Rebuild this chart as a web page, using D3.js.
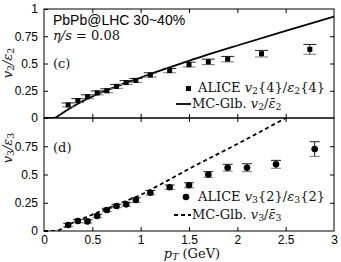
<!DOCTYPE html>
<meta charset='utf-8'>
<style>
body { margin: 0; background: #fff; }
svg { display: block; }
.tick text { font-family: 'Liberation Sans', Arial, sans-serif; font-size: 12px; fill: #000; }
.tick line { stroke: #000; }
.math { font-family: 'DejaVu Serif', 'Liberation Serif', serif; fill: #111; }
</style>
<div id='chart'><svg></svg></div>
<script src="https://d3js.org/d3.v7.min.js"></script>
<script>
// ALICE v2{4}/eps2{4}
const v2Pt  = [0.25, 0.35, 0.45, 0.55, 0.65, 0.75, 0.85, 0.95, 1.1, 1.3, 1.5, 1.7, 1.9, 2.25, 2.75];
const v2Val = [0.12, 0.16, 0.195, 0.23, 0.25, 0.29, 0.325, 0.345, 0.395, 0.435, 0.49, 0.515, 0.54, 0.59, 0.63];
const v2Err = [0.018, 0.018, 0.018, 0.018, 0.018, 0.018, 0.018, 0.018, 0.02, 0.02, 0.022, 0.025, 0.025, 0.03, 0.045];
// ALICE v3{2}/eps3{2}
const v3Pt  = [0.25, 0.35, 0.45, 0.55, 0.65, 0.75, 0.85, 0.95, 1.1, 1.3, 1.5, 1.7, 1.9, 2.1, 2.4, 2.8];
const v3Val = [0.053, 0.088, 0.085, 0.133, 0.186, 0.221, 0.236, 0.274, 0.339, 0.387, 0.405, 0.50, 0.56, 0.56, 0.59, 0.725];
const v3Err = [0.015, 0.015, 0.015, 0.015, 0.015, 0.015, 0.017, 0.02, 0.02, 0.02, 0.022, 0.025, 0.03, 0.035, 0.035, 0.065];
// MC-Glauber hydro curves
const glb2Pt  = [0, 0.1, 0.15, 0.2, 0.3, 0.4, 0.5, 0.6, 0.8, 1.0, 1.2, 1.5, 2.0, 2.5, 3.0];
const glb2Val = [0, 0, 0.02, 0.05, 0.105, 0.155, 0.197, 0.237, 0.307, 0.37, 0.435, 0.525, 0.665, 0.80, 0.93];
const glb3Pt  = [0, 0.1, 0.15, 0.2, 0.3, 0.4, 0.5, 0.6, 0.8, 1.0, 1.2, 1.5, 2.0, 2.5];
const glb3Val = [0, 0, 0.005, 0.03, 0.075, 0.11, 0.145, 0.18, 0.25, 0.32, 0.41, 0.55, 0.77, 1.0];

const xTicks = [0, 0.5, 1, 1.5, 2, 2.5, 3];
const yTicksTop = [0, 0.25, 0.5, 0.75, 1];
const yTicksBot = [0, 0.25, 0.5, 0.75];

const width = 341, height = 262;
const svg = d3.select('svg').attr('width', width).attr('height', height);

const x = d3.scaleLinear().domain([0, 3]).range([44, 334]);
const yTop = d3.scaleLinear().domain([0, 1]).range([118, 9]);
const yBot = d3.scaleLinear().domain([0, 1]).range([231, 118]);

const fmt = d => String(d);

function panel(y, yTicks, showX) {
  const g = svg.append('g');
  g.append('g').attr('transform', `translate(${x(0)},0)`)
    .call(d3.axisLeft(y).tickValues(yTicks).tickFormat(fmt).tickSizeInner(-4).tickSizeOuter(0).tickPadding(6))
    .call(a => a.select('.domain').remove());
  g.append('g').attr('transform', `translate(${x(3)},0)`)
    .call(d3.axisRight(y).tickValues([0.25, 0.5, 0.75]).tickFormat('').tickSizeInner(-4).tickSizeOuter(0))
    .call(a => a.select('.domain').remove());
  g.append('g').attr('transform', `translate(0,${y(1)})`)
    .call(d3.axisTop(x).tickValues([0.5, 1, 1.5, 2, 2.5]).tickFormat('').tickSizeInner(-4).tickSizeOuter(0))
    .call(a => a.select('.domain').remove());
  const bx = g.append('g').attr('transform', `translate(0,${y(0)})`)
    .call(d3.axisBottom(x).tickValues(showX ? xTicks : [0.5, 1, 1.5, 2, 2.5])
      .tickFormat(showX ? fmt : '').tickSizeInner(-4).tickSizeOuter(0).tickPadding(4))
    .call(a => a.select('.domain').remove());
  bx.selectAll('.tick line').filter(d => d === 0 || d === 3).remove();
  g.append('rect')
    .attr('x', x(0)).attr('y', y(1))
    .attr('width', x(3) - x(0)).attr('height', y(0) - y(1))
    .attr('fill', 'none').attr('stroke', '#000').attr('stroke-width', 1);
  return g;
}

panel(yTop, yTicksTop, false);
panel(yBot, yTicksBot, true);

svg.append('clipPath').attr('id', 'ct').append('rect')
  .attr('x', x(0)).attr('y', yTop(1)).attr('width', x(3) - x(0)).attr('height', yTop(0) - yTop(1));
svg.append('clipPath').attr('id', 'cb').append('rect')
  .attr('x', x(0)).attr('y', yBot(1)).attr('width', x(3) - x(0)).attr('height', yBot(0) - yBot(1));

// model curves
const line2 = d3.line().x(d => x(d[0])).y(d => yTop(d[1])).curve(d3.curveMonotoneX);
svg.append('path').attr('clip-path', 'url(#ct)')
  .datum(d3.zip(glb2Pt, glb2Val))
  .attr('d', line2).attr('fill', 'none').attr('stroke', '#000').attr('stroke-width', 1.8);

const line3 = d3.line().x(d => x(d[0])).y(d => yBot(d[1])).curve(d3.curveMonotoneX);
svg.append('path').attr('clip-path', 'url(#cb)')
  .datum(d3.zip(glb3Pt, glb3Val))
  .attr('d', line3).attr('fill', 'none').attr('stroke', '#000').attr('stroke-width', 1.8)
  .attr('stroke-dasharray', '4,3');

// error bars + markers
function errorBars(pts, vals, errs, y, cap) {
  const g = svg.append('g').attr('stroke', '#222').attr('stroke-width', 1);
  const data = d3.zip(pts, vals, errs);
  g.selectAll('line.v').data(data).join('line')
    .attr('x1', d => x(d[0])).attr('x2', d => x(d[0]))
    .attr('y1', d => y(d[1] - d[2])).attr('y2', d => y(d[1] + d[2]));
  g.selectAll('line.t').data(data).join('line').attr('class', 't')
    .attr('x1', d => x(d[0]) - cap).attr('x2', d => x(d[0]) + cap)
    .attr('y1', d => y(d[1] + d[2])).attr('y2', d => y(d[1] + d[2]));
  g.selectAll('line.b').data(data).join('line').attr('class', 'b')
    .attr('stroke', '#777')
    .attr('x1', d => x(d[0]) - cap).attr('x2', d => x(d[0]) + cap)
    .attr('y1', d => y(d[1] - d[2])).attr('y2', d => y(d[1] - d[2]));
  return data;
}

const d2 = errorBars(v2Pt, v2Val, v2Err, yTop, 6.5);
svg.append('g').selectAll('rect').data(d2).join('rect')
  .attr('x', d => x(d[0]) - 2.5).attr('y', d => yTop(d[1]) - 2.5)
  .attr('width', 5).attr('height', 5).attr('fill', '#000');

const d3data = errorBars(v3Pt, v3Val, v3Err, yBot, 5);
svg.append('g').selectAll('circle').data(d3data).join('circle')
  .attr('cx', d => x(d[0])).attr('cy', d => yBot(d[1])).attr('r', 3.3).attr('fill', '#000');

// rich math text helper
function rich(sel, parts) {
  parts.forEach(p => {
    const t = sel.append('tspan').text(p.t);
    if (p.i) t.attr('font-style', 'italic');
    if (p.sub) t.attr('baseline-shift', '-25%').attr('font-size', '0.72em');
  });
  return sel;
}

// annotations
svg.append('text').attr('x', 53).attr('y', 25)
  .attr('font-family', "'Liberation Sans', Arial, sans-serif").attr('font-size', 14)
  .text('PbPb@LHC 30~40%');
rich(svg.append('text').attr('class', 'math').attr('x', 53).attr('y', 40).attr('font-size', 13),
  [{t: 'η', i: 1}, {t: '/', i: 1}, {t: 's', i: 1}, {t: ' = 0.08'}]);
svg.append('text').attr('class', 'math').attr('x', 53).attr('y', 68).attr('font-size', 13).text('(c)');
svg.append('text').attr('class', 'math').attr('x', 53).attr('y', 152).attr('font-size', 13).text('(d)');

// y labels
rich(svg.append('text').attr('class', 'math').attr('font-size', 13).attr('text-anchor', 'middle')
  .attr('transform', 'translate(12,63) rotate(-90)'),
  [{t: 'v', i: 1}, {t: '2', sub: 1}, {t: '/', i: 1}, {t: 'ε', i: 1}, {t: '2', sub: 1}]);
rich(svg.append('text').attr('class', 'math').attr('font-size', 13).attr('text-anchor', 'middle')
  .attr('transform', 'translate(12,148) rotate(-90)'),
  [{t: 'v', i: 1}, {t: '3', sub: 1}, {t: '/', i: 1}, {t: 'ε', i: 1}, {t: '3', sub: 1}]);

// x label
rich(svg.append('text').attr('class', 'math').attr('font-size', 13).attr('text-anchor', 'middle')
  .attr('x', 192).attr('y', 258),
  [{t: 'p', i: 1}, {t: 'T', i: 1, sub: 1}, {t: ' (GeV)'}]);

// legends
svg.append('rect').attr('x', 186).attr('y', 86).attr('width', 5).attr('height', 5).attr('fill', '#000');
rich(svg.append('text').attr('class', 'math').attr('x', 198).attr('y', 92).attr('font-size', 13),
  [{t: 'ALICE '}, {t: 'v', i: 1}, {t: '2', sub: 1}, {t: '{4}/'}, {t: 'ε', i: 1}, {t: '2', sub: 1}, {t: '{4}'}]);
svg.append('line').attr('x1', 176).attr('x2', 191).attr('y1', 104).attr('y2', 104)
  .attr('stroke', '#000').attr('stroke-width', 1.8);
rich(svg.append('text').attr('class', 'math').attr('x', 192).attr('y', 108).attr('font-size', 13),
  [{t: 'MC-Glb. '}, {t: 'v', i: 1}, {t: '2', sub: 1}, {t: '/'}, {t: 'ε\u0304', i: 1}, {t: '2', sub: 1}]);

svg.append('circle').attr('cx', 186).attr('cy', 197).attr('r', 3.3).attr('fill', '#000');
rich(svg.append('text').attr('class', 'math').attr('x', 198).attr('y', 201).attr('font-size', 13),
  [{t: 'ALICE '}, {t: 'v', i: 1}, {t: '3', sub: 1}, {t: '{2}/'}, {t: 'ε', i: 1}, {t: '3', sub: 1}, {t: '{2}'}]);
svg.append('line').attr('x1', 174).attr('x2', 191).attr('y1', 215).attr('y2', 215)
  .attr('stroke', '#000').attr('stroke-width', 1.8).attr('stroke-dasharray', '4,3');
rich(svg.append('text').attr('class', 'math').attr('x', 192).attr('y', 219).attr('font-size', 13),
  [{t: 'MC-Glb. '}, {t: 'v', i: 1}, {t: '3', sub: 1}, {t: '/'}, {t: 'ε\u0304', i: 1}, {t: '3', sub: 1}]);
</script>
